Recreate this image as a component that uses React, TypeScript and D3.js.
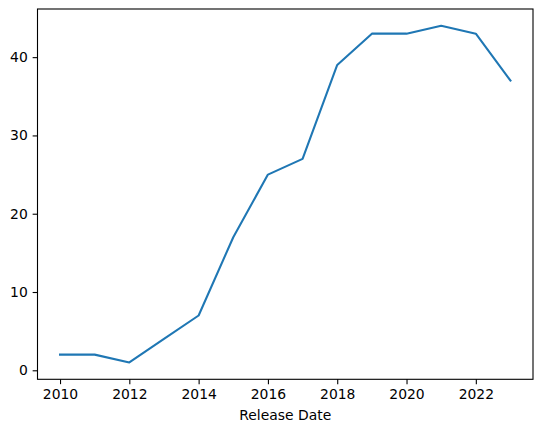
import { useEffect, useRef } from 'react';
import * as d3 from 'd3';

// release counts per year
const years = [2010, 2011, 2012, 2013, 2014, 2015, 2016, 2017, 2018, 2019, 2020, 2021, 2022, 2023];
const counts = [2, 2, 1, 4, 7, 17, 25, 27, 39, 43, 43, 44, 43, 37];
const xTicks = [2010, 2012, 2014, 2016, 2018, 2020, 2022];
const yTicks = [0, 10, 20, 30, 40];
const xLabel = 'Release Date';

const W = 543;
const H = 432;
const box = { left: 37.5, top: 9, right: 533, bottom: 379.3 };
const font = 'DejaVu Sans, sans-serif';
const fs = 13.9;

export default function App() {
  const ref = useRef<SVGSVGElement>(null);

  useEffect(() => {
    const svg = d3.select(ref.current);
    svg.selectAll('*').remove();

    // matplotlib style 5% margins
    const xPad = (d3.max(years)! - d3.min(years)!) * 0.05;
    const yPad = (d3.max(counts)! - d3.min(counts)!) * 0.05;
    const x = d3
      .scaleLinear()
      .domain([d3.min(years)! - xPad, d3.max(years)! + xPad])
      .range([box.left, box.right]);
    const y = d3
      .scaleLinear()
      .domain([d3.min(counts)! - yPad, d3.max(counts)! + yPad])
      .range([box.bottom, box.top]);

    const line = d3
      .line<number>()
      .x((_, i) => x(years[i]))
      .y((d) => y(d));

    svg
      .append('path')
      .datum(counts)
      .attr('d', line)
      .attr('fill', 'none')
      .attr('stroke', '#1f77b4')
      .attr('stroke-width', 2.08)
      .attr('stroke-linejoin', 'round')
      .attr('stroke-linecap', 'square');

    const xAxis = svg
      .append('g')
      .attr('transform', `translate(0,${box.bottom})`)
      .call(d3.axisBottom(x).tickValues(xTicks).tickFormat(d3.format('d')).tickSize(4.86).tickPadding(4.86));
    xAxis.select('.domain').remove();

    const yAxis = svg
      .append('g')
      .attr('transform', `translate(${box.left},0)`)
      .call(d3.axisLeft(y).tickValues(yTicks).tickFormat(d3.format('d')).tickSize(4.86).tickPadding(4.86));
    yAxis.select('.domain').remove();

    svg
      .selectAll('.tick line')
      .attr('stroke', '#000')
      .attr('stroke-width', 1.1);
    svg
      .selectAll('.tick text')
      .attr('fill', '#000')
      .style('font-family', font)
      .style('font-size', `${fs}px`);

    // frame
    svg
      .append('rect')
      .attr('x', box.left)
      .attr('y', box.top)
      .attr('width', box.right - box.left)
      .attr('height', box.bottom - box.top)
      .attr('fill', 'none')
      .attr('stroke', '#000')
      .attr('stroke-width', 1.1);

    svg
      .append('text')
      .attr('x', (box.left + box.right) / 2)
      .attr('y', 420)
      .attr('text-anchor', 'middle')
      .style('font-family', font)
      .style('font-size', `${fs}px`)
      .attr('fill', '#000')
      .text(xLabel);
  }, []);

  return (
    <svg
      ref={ref}
      width={W}
      height={H}
      style={{ position: 'absolute', left: 0, top: 0, background: '#fff' }}
    />
  );
}
